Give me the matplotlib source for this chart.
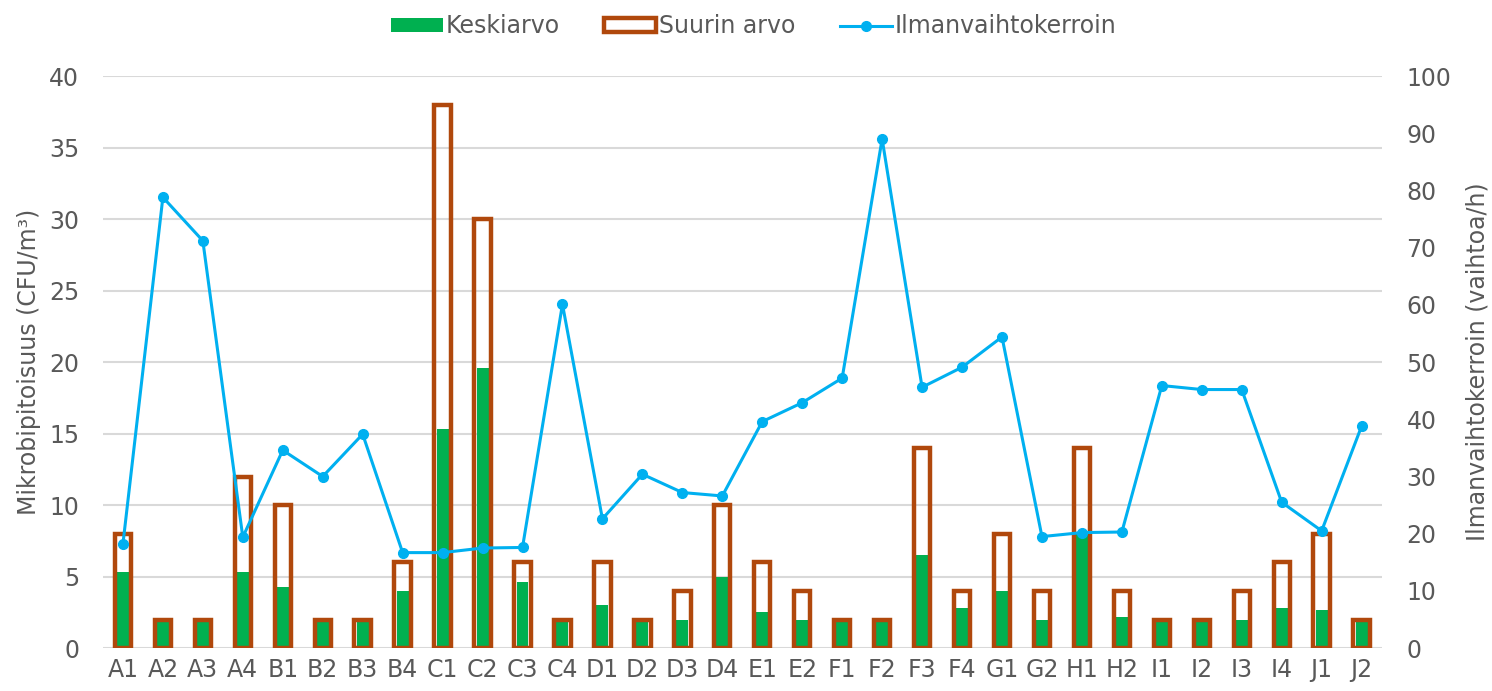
import matplotlib.pyplot as plt
from matplotlib.patches import Patch
from matplotlib.lines import Line2D
import numpy as np

# Näytepisteet
paikat = ['A1', 'A2', 'A3', 'A4', 'B1', 'B2', 'B3', 'B4', 'C1', 'C2', 'C3', 'C4',
          'D1', 'D2', 'D3', 'D4', 'E1', 'E2', 'F1', 'F2', 'F3', 'F4', 'G1', 'G2',
          'H1', 'H2', 'I1', 'I2', 'I3', 'I4', 'J1', 'J2']

keskiarvo = [5.3, 2, 2, 5.3, 4.3, 2, 2, 4, 15.3, 19.6, 4.6, 2,
             3, 2, 2, 5, 2.5, 2, 2, 2, 6.5, 2.8, 4, 2,
             8.1, 2.2, 2, 2, 2, 2.8, 2.7, 2]

suurin_arvo = [8, 2, 2, 12, 10, 2, 2, 6, 38, 30, 6, 2,
               6, 2, 4, 10, 6, 4, 2, 2, 14, 4, 8, 4,
               14, 4, 2, 2, 4, 6, 8, 2]

ilmanvaihto = [18.2, 78.8, 71.2, 19.4, 34.6, 30.0, 37.4, 16.7, 16.7, 17.5, 17.6, 60.1,
               22.6, 30.4, 27.2, 26.6, 39.6, 42.9, 47.2, 89.0, 45.6, 49.1, 54.4, 19.5,
               20.2, 20.3, 45.9, 45.2, 45.2, 25.5, 20.5, 38.8]

VIHREA = '#00B050'
RUSKEA = '#B0480C'
SININEN = '#00B0F0'
HARMAA = '#595959'
FS = 17

plt.rcParams['font.family'] = ['DejaVu Sans']

fig = plt.figure(figsize=(14.92, 6.91), dpi=100)
ax = fig.add_axes([0.069, 0.062, 0.857, 0.828])
ax2 = ax.twinx()

x = np.arange(len(paikat))

# pylväät: keskiarvo täytettynä, suurin arvo ontona päälle
ax.bar(x, keskiarvo, width=0.3, color=VIHREA, zorder=2)
ax.bar(x, suurin_arvo, width=0.41, facecolor='none', edgecolor=RUSKEA,
       linewidth=3.2, zorder=3)

ax2.plot(x, ilmanvaihto, color=SININEN, linewidth=2.2, marker='o',
         markersize=7, zorder=4)

ax.set_xlim(-0.5, len(paikat) - 0.5)
ax.set_ylim(0, 40)
ax.set_yticks(range(0, 41, 5))
ax2.set_ylim(0, 100)
ax2.set_yticks(range(0, 101, 10))

ax.set_xticks(x)
ax.set_xticklabels(paikat)

ax.grid(axis='y', color='#D9D9D9', linewidth=1.5, zorder=0)
ax.set_axisbelow(True)

for a in (ax, ax2):
    for s in a.spines.values():
        s.set_visible(False)
    a.tick_params(axis='both', length=0, labelsize=FS, labelcolor=HARMAA)
ax.tick_params(axis='y', pad=17)
ax.tick_params(axis='x', pad=7)
ax2.tick_params(axis='y', pad=18)

ax.set_ylabel('Mikrobipitoisuus (CFU/m³)', fontsize=FS, color=HARMAA, labelpad=6)
ax2.set_ylabel('Ilmanvaihtokerroin (vaihtoa/h)', fontsize=FS, color=HARMAA, labelpad=10)

# selite
kahvat = [
    Patch(facecolor=VIHREA, edgecolor='none'),
    Patch(facecolor='white', edgecolor=RUSKEA, linewidth=3.2),
    Line2D([0], [0], color=SININEN, linewidth=2.2, marker='o', markersize=7),
]
nimet = ['Keskiarvo', 'Suurin arvo', 'Ilmanvaihtokerroin']
fig.legend(kahvat, nimet, loc='upper center', bbox_to_anchor=(0.505, 1.01),
           ncol=3, frameon=False, fontsize=FS, labelcolor=HARMAA,
           handlelength=2.2, handleheight=0.55, handletextpad=0.1,
           columnspacing=1.9)

fig.savefig('out.png', dpi=100)
